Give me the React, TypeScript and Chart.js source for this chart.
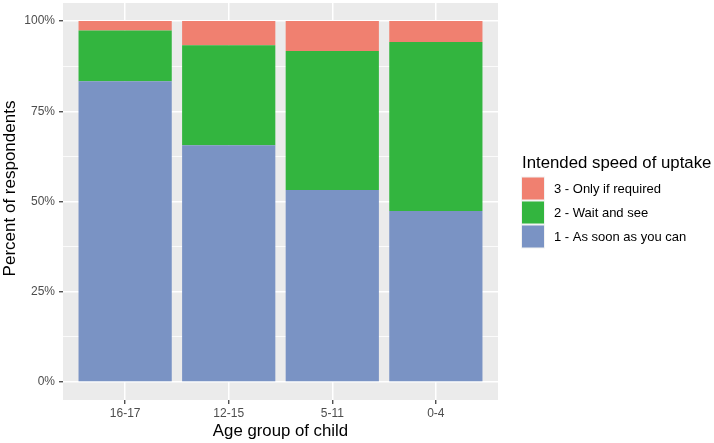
import React, { useEffect, useRef } from "react";
import { Chart, registerables } from "chart.js";

Chart.register(...registerables);

const FONT = "'Liberation Sans', Arial, Helvetica, sans-serif";

// ---- data ----
const categories = ["16-17", "12-15", "5-11", "0-4"];
const asSoonAsYouCan = [83.3, 65.6, 53.2, 47.4];
const waitAndSee = [14.1, 27.7, 38.5, 46.8];
const onlyIfRequired = [2.6, 6.7, 8.3, 5.8];
const seriesLabels = ["1 - As soon as you can", "2 - Wait and see", "3 - Only if required"];
const seriesColors = ["#7A93C4", "#33B53F", "#F08070"];
const yMajorTicks = [0, 25, 50, 75, 100];
const yMinorTicks = [12.5, 37.5, 62.5, 87.5];
const xTitle = "Age group of child";
const yTitle = "Percent of respondents";
const legendTitle = "Intended speed of uptake";

const panelBg = {
  id: "panelBg",
  beforeDraw(chart: any) {
    const { ctx, chartArea } = chart;
    ctx.save();
    ctx.fillStyle = "#EBEBEB";
    ctx.fillRect(chartArea.left, chartArea.top, chartArea.right - chartArea.left, chartArea.bottom - chartArea.top);
    ctx.restore();
  },
};

// y-axis title, drawn beside the y scale
const yTitlePlugin = {
  id: "yTitlePlugin",
  afterDraw(chart: any) {
    const { ctx } = chart;
    const ys = chart.scales.y;
    ctx.save();
    ctx.translate(ys.left + 10, (ys.top + ys.bottom) / 2 - 13);
    ctx.rotate(-Math.PI / 2);
    ctx.fillStyle = "#000";
    ctx.font = `17px ${FONT}`;
    ctx.textAlign = "center";
    ctx.textBaseline = "middle";
    ctx.fillText(yTitle, 0, 0);
    ctx.restore();
  },
};

const ggLegend = {
  id: "ggLegend",
  afterDraw(chart: any) {
    const { ctx, chartArea } = chart;
    const ds = chart.data.datasets;
    const x = chartArea.right + 24;
    const box = 22;
    const pitch = 24;
    const titleGap = 24;
    const blockH = titleGap + ds.length * pitch;
    const top = (chartArea.top + chartArea.bottom) / 2 - blockH / 2;
    ctx.save();
    ctx.fillStyle = "#000";
    ctx.font = `16.8px ${FONT}`;
    ctx.textAlign = "left";
    ctx.textBaseline = "alphabetic";
    ctx.fillText(legendTitle, x, top + 14);
    const items = ds.slice().reverse();
    items.forEach((d: any, k: number) => {
      const y = top + titleGap + k * pitch;
      ctx.fillStyle = "#F2F2F2";
      ctx.fillRect(x - 1, y - 1, box + 2, box + 2);
      ctx.fillStyle = d.backgroundColor;
      ctx.fillRect(x, y, box, box);
      ctx.fillStyle = "#000";
      ctx.font = `13px ${FONT}`;
      ctx.textBaseline = "middle";
      ctx.fillText(d.label, x + 32, y + box / 2 + 0.5);
    });
    ctx.restore();
  },
};

export default function App() {
  const ref = useRef<HTMLCanvasElement | null>(null);

  useEffect(() => {
    if (!ref.current) return;
    const toXY = (arr: number[]) => arr.map((v, i) => ({ x: i, y: v }));
    const seriesData = [asSoonAsYouCan, waitAndSee, onlyIfRequired];
    const isMajor = (v: number) => yMajorTicks.includes(v);

    const chart = new Chart(ref.current, {
      type: "bar",
      data: {
        datasets: seriesData.map((arr, i) => ({
          label: seriesLabels[i],
          data: toXY(arr),
          backgroundColor: seriesColors[i],
          borderWidth: 0,
          barPercentage: 0.9,
          categoryPercentage: 1.0,
        })),
      },
      options: {
        animation: false,
        responsive: true,
        maintainAspectRatio: false,
        layout: { padding: { top: 3, right: 216, left: 0, bottom: 0 } },
        plugins: {
          legend: { display: false },
          tooltip: { enabled: false },
        },
        scales: {
          x: {
            type: "linear",
            min: -0.6,
            max: 3.6,
            offset: false,
            stacked: true,
            afterBuildTicks: (s: any) => {
              s.ticks = categories.map((_, i) => ({ value: i }));
            },
            afterFit: (s: any) => {
              s.height = 43;
              s.paddingLeft = 0;
              s.paddingRight = 0;
            },
            ticks: {
              callback: (v: any) => categories[v as number] ?? "",
              font: { family: FONT, size: 12 },
              color: "#4D4D4D",
              padding: 2,
              maxRotation: 0,
              autoSkip: false,
            },
            grid: {
              offset: false,
              color: "#FFFFFF",
              lineWidth: 1.5,
              tickColor: "#333333",
              tickWidth: 1.2,
              tickLength: 4,
            },
            border: { display: false },
            title: {
              display: true,
              text: xTitle,
              font: { family: FONT, size: 16.8 },
              color: "#000000",
              padding: { top: 0, bottom: 2 },
            },
          },
          y: {
            type: "linear",
            min: -5,
            max: 105,
            stacked: true,
            afterBuildTicks: (s: any) => {
              s.ticks = [...yMajorTicks, ...yMinorTicks].sort((a, b) => a - b).map((v) => ({ value: v }));
            },
            afterFit: (s: any) => {
              s.width = 63;
              s.paddingTop = 0;
              s.paddingBottom = 0;
            },
            ticks: {
              callback: (v: any) => (isMajor(v as number) ? `${v}%` : ""),
              font: { family: FONT, size: 12 },
              color: "#4D4D4D",
              padding: 4,
              autoSkip: false,
            },
            grid: {
              color: "#FFFFFF",
              lineWidth: (c: any) => (isMajor(c.tick?.value) ? 1.5 : 0.8),
              tickColor: (c: any) => (isMajor(c.tick?.value) ? "#333333" : "rgba(0,0,0,0)"),
              tickWidth: 1.2,
              tickLength: 4,
            },
            border: { display: false },
            title: { display: false },
          },
        },
      } as any,
      plugins: [panelBg, yTitlePlugin, ggLegend],
    });
    return () => chart.destroy();
  }, []);

  return (
    <div style={{ position: "fixed", left: 0, top: 0, width: 714, height: 443, background: "#FFFFFF" }}>
      <canvas ref={ref} />
    </div>
  );
}
